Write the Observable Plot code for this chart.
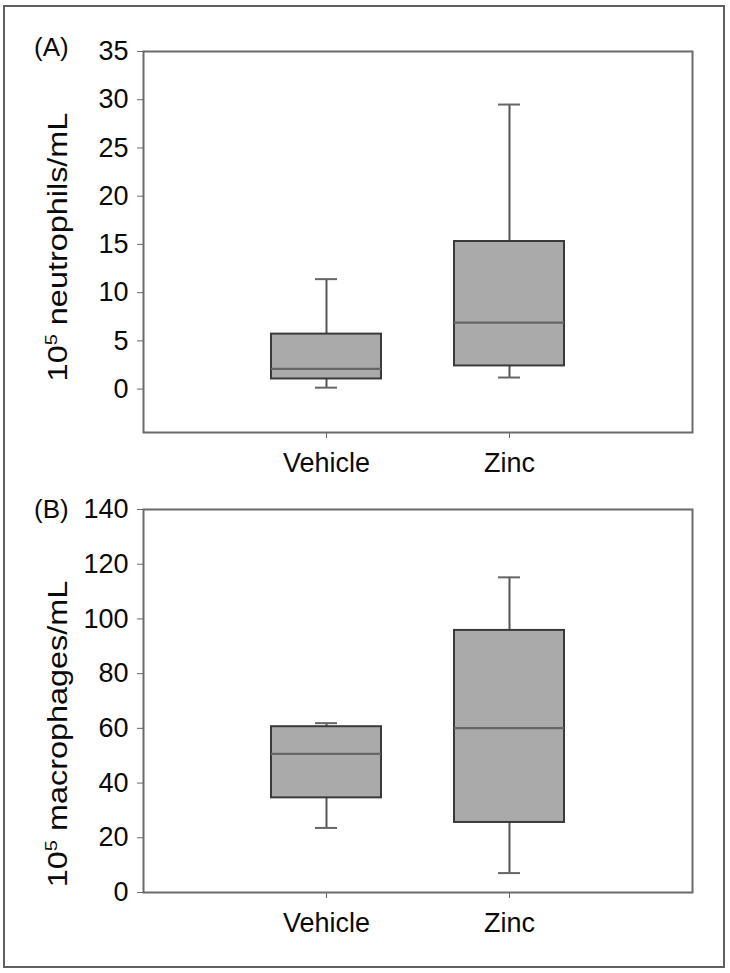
<!DOCTYPE html>
<html>
<head>
<meta charset="utf-8">
<script src="https://cdn.jsdelivr.net/npm/d3@7"></script>
<script src="https://cdn.jsdelivr.net/npm/@observablehq/plot@0.6"></script>
<style>
  body { margin: 0; background: #fff; }
  #fig { position: relative; width: 730px; height: 973px; background: #fff; font-family: "Liberation Sans", Arial, Helvetica, sans-serif; color: #0a0a0a; }
  .outer { position: absolute; left: 3px; top: 5px; width: 718px; height: 959px; border: 2px solid #606060; }
  .panel { position: absolute; left: 0; }
  .plabel { position: absolute; font-size: 26px; line-height: 1; }
  .ytitle { position: absolute; font-size: 27px; line-height: 1; white-space: nowrap; transform: translate(-50%, -50%) rotate(-90deg) scaleX(1.2); }
  .ytitle sup { font-size: 0.62em; vertical-align: 0.55em; line-height: 0; }
  svg g[aria-label$="tick"] { stroke: #666; }
</style>
</head>
<body>
<div id="fig">
  <div class="outer"></div>
  <div id="panelA" class="panel" style="top:0px"></div>
  <div id="panelB" class="panel" style="top:480px"></div>
  <div class="plabel" style="left:34px; top:34px">(A)</div>
  <div class="plabel" style="left:34px; top:496px">(B)</div>
  <div class="ytitle" style="left:58px; top:247px">10<sup>5</sup> neutrophils/mL</div>
  <div class="ytitle" style="left:58px; top:734px">10<sup>5</sup> macrophages/mL</div>
</div>
<script>
// ---- data ----
const categories = ["Vehicle", "Zinc"];

// Panel A: 10^5 neutrophils/mL
const neutroMin    = [0.15, 1.2];
const neutroQ1     = [1.05, 2.4];
const neutroMedian = [2.1, 6.9];
const neutroQ3     = [5.7, 15.3];
const neutroMax    = [11.4, 29.5];
const neutroTicks  = [0, 5, 10, 15, 20, 25, 30, 35];

// Panel B: 10^5 macrophages/mL
const macroMin    = [23.6, 7.1];
const macroQ1     = [34.6, 25.6];
const macroMedian = [50.7, 60.1];
const macroQ3     = [60.6, 95.8];
const macroMax    = [61.9, 115.2];
const macroTicks  = [0, 20, 40, 60, 80, 100, 120, 140];

function rows(mins, q1s, meds, q3s, maxs) {
  return categories.map((c, i) => ({cat: c, min: mins[i], q1: q1s[i], median: meds[i], q3: q3s[i], max: maxs[i]}));
}

const font = '"Liberation Sans", Arial, Helvetica, sans-serif';
const boxStroke = "#3a3a3a";
const capInset = 44;

function boxPlot(data, yDomain, ticks, opts) {
  return Plot.plot({
    width: 730,
    height: opts.height,
    marginLeft: 143,
    marginRight: 38,
    marginTop: opts.marginTop,
    marginBottom: opts.marginBottom,
    style: {fontFamily: font, fontSize: "27px", color: "#0a0a0a", background: "transparent", overflow: "visible"},
    x: {domain: categories, paddingInner: 0.399, paddingOuter: 0.6995, align: 0.5, label: null, tickSize: 6, tickPadding: 14},
    y: {domain: yDomain, ticks: ticks, tickSize: 6, tickPadding: 9, label: null},
    marks: [
      Plot.frame({stroke: "#6a6a6a", strokeWidth: 2}),
      Plot.ruleX(data, {x: "cat", y1: "min", y2: "q1", stroke: "#555", strokeWidth: 2}),
      Plot.ruleX(data, {x: "cat", y1: "q3", y2: "max", stroke: "#555", strokeWidth: 2}),
      Plot.tickY(data, {x: "cat", y: "min", stroke: "#555", strokeWidth: 2, insetLeft: capInset, insetRight: capInset}),
      Plot.tickY(data, {x: "cat", y: "max", stroke: "#555", strokeWidth: 2, insetLeft: capInset, insetRight: capInset}),
      Plot.barY(data, {x: "cat", y1: "q1", y2: "q3", fill: "#aaaaaa", stroke: boxStroke, strokeWidth: 2}),
      Plot.tickY(data, {x: "cat", y: "median", stroke: boxStroke, strokeWidth: 2.2})
    ]
  });
}

document.getElementById("panelA").appendChild(
  boxPlot(rows(neutroMin, neutroQ1, neutroMedian, neutroQ3, neutroMax), [-4.5, 35], neutroTicks,
          {height: 480, marginTop: 51, marginBottom: 48})
);
document.getElementById("panelB").appendChild(
  boxPlot(rows(macroMin, macroQ1, macroMedian, macroQ3, macroMax), [0, 140], macroTicks,
          {height: 460, marginTop: 29, marginBottom: 48})
);
</script>
</body>
</html>
